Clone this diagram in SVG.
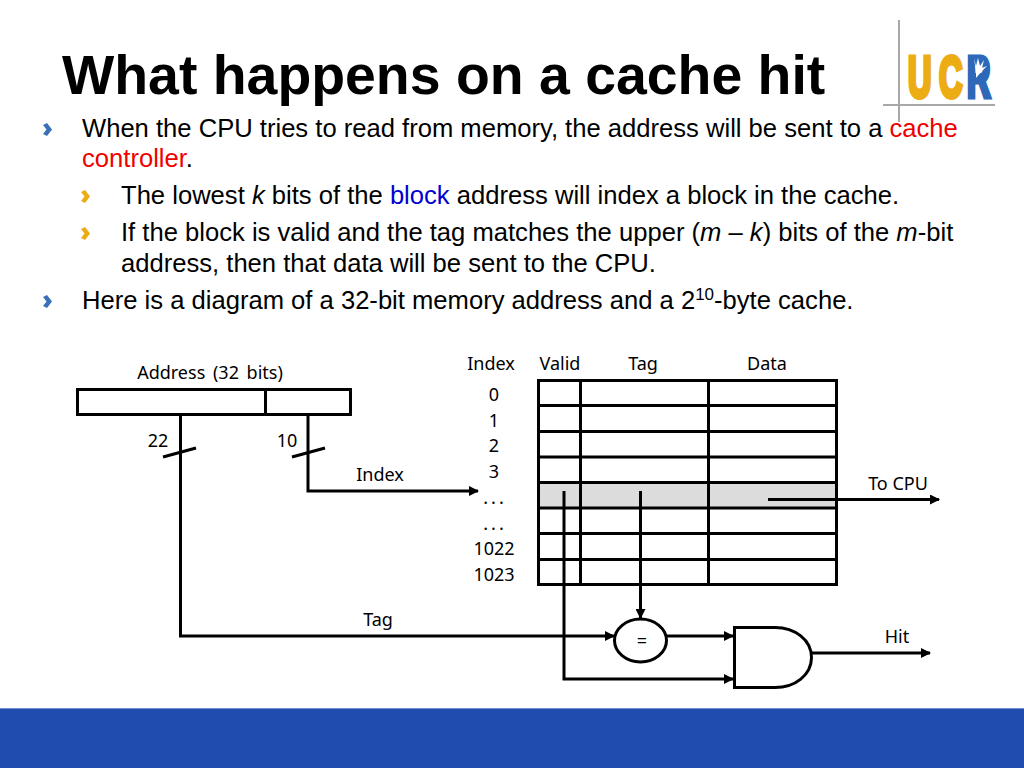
<svg xmlns="http://www.w3.org/2000/svg" width="1024" height="768" viewBox="0 0 1024 768">
<style>
text{font-family:"Liberation Sans",Arial,sans-serif;fill:#000}
.t{font-size:55.400px;font-weight:bold}
.b{font-size:25.600px}
.d{font-family:"Noto Sans","DejaVu Sans",sans-serif;font-size:18px}
.m{text-anchor:middle}
.red{fill:#f00000}
.blue{fill:#0000d0}
.i{font-style:italic}
.w{stroke:#000;stroke-width:3;fill:none}
.g{stroke:#a8a8a8;stroke-width:2;fill:none}
.cb{fill:#3a70b8}
.cy{fill:#ecac14}
.lu{font-size:58px;font-weight:bold;fill:#ecac14;stroke:#ecac14;stroke-width:5}
.lr{font-size:58px;font-weight:bold;fill:#2e68b8;stroke:#2e68b8;stroke-width:5}
</style>
<defs>
<marker id="a" markerUnits="userSpaceOnUse" markerWidth="10" markerHeight="10" refX="9" refY="5" orient="auto"><path d="M0 0L10 5L0 10Z" fill="#000"/></marker>
<path id="chev" d="M0 2L4 0L9 6.500L4 13L0 11L3.500 6.500Z"/>
</defs>
<rect id="band" x="0" y="708" width="1024" height="60" fill="#204cb0"/>
<rect x="0" y="708" width="1024" height="1" fill="#6f8fd0"/>
<g id="logo">
<path class="g" d="M899 20V122M883 105H995"/>
<text transform="translate(908 97) scale(.56 1.000)" class="lu">U</text>
<text transform="translate(939 97) scale(.56 1.000)" class="lu">C</text>
<text transform="translate(967 97) scale(.56 1.000)" class="lr">R</text>
<path d="M974 58L976 66L978 58L980 66L984 60L982 68L987 66L982 71L976 78L976 72Z" fill="#fff"/>
</g>
<g id="title"><text class="t" x="62" y="94">What happens on a cache hit</text></g>
<g id="bullets">
<use href="#chev" x="43" y="123" class="cb"/>
<use href="#chev" x="81" y="190" class="cy"/>
<use href="#chev" x="81" y="227" class="cy"/>
<use href="#chev" x="43" y="295" class="cb"/>
<text class="b" x="82" y="136.500">When the CPU tries to read from memory, the address will be sent to a <tspan class="red">cache</tspan></text>
<text class="b" x="82" y="166.500"><tspan class="red">controller</tspan>.</text>
<text class="b" x="121" y="203.500">The lowest <tspan class="i">k</tspan> bits of the <tspan class="blue">block</tspan> address will index a block in the cache.</text>
<text class="b" x="121" y="240.500">If the block is valid and the tag matches the upper (<tspan class="i">m</tspan> – <tspan class="i">k</tspan>) bits of the <tspan class="i">m</tspan>-bit</text>
<text class="b" x="121" y="271.500">address, then that data will be sent to the CPU.</text>
<text class="b" x="82" y="308.500">Here is a diagram of a 32-bit memory address and a 2<tspan dy="-9" font-size="17">10</tspan><tspan dy="9">-byte cache.</tspan></text>
</g>
<g id="address">
<rect class="w" x="77.500" y="389.500" width="273" height="25"/>
<path class="w" d="M265.500 389.500V414.500"/>
<text class="d m" x="210" y="379" word-spacing="3">Address (32 bits)</text>
<text class="d m" x="158" y="447">22</text>
<text class="d m" x="287" y="447">10</text>
</g>
<g id="cache">
<rect x="539" y="483" width="297" height="25" fill="#dcdcdc"/>
<rect class="w" x="538.500" y="380.500" width="298" height="204"/>
<path class="w" d="M538 405.500H837M538 431.500H837M538 457H837M538 482.500H837M538 508H837M538 533.500H837M538 559.500H837M580.500 380V585M708.500 380V585"/>
<text class="d m" x="491" y="370">Index</text>
<text class="d m" x="560" y="370">Valid</text>
<text class="d m" x="643" y="370">Tag</text>
<text class="d m" x="767" y="370">Data</text>
<text class="d m" x="494" y="401">0</text>
<text class="d m" x="494" y="427">1</text>
<text class="d m" x="494" y="452">2</text>
<text class="d m" x="494" y="478">3</text>
<text class="d m" x="495" y="504" letter-spacing="3">...</text>
<text class="d m" x="495" y="530" letter-spacing="3">...</text>
<text class="d m" x="494" y="555">1022</text>
<text class="d m" x="494" y="581">1023</text>
</g>
<g id="connectors">
<path class="w" d="M180.500 414V636H614" marker-end="url(#a)"/>
<path class="w" d="M308 414V491H478" marker-end="url(#a)"/>
<path class="w" d="M163 457L196 448M292 457L325 448"/>
<path class="w" d="M564 491V679H733" marker-end="url(#a)"/>
<path class="w" d="M640.500 491V618" marker-end="url(#a)"/>
<path class="w" d="M768 499.500H939" marker-end="url(#a)"/>
<path class="w" d="M667 636H733" marker-end="url(#a)"/>
<path class="w" d="M812 653H930" marker-end="url(#a)"/>
<text class="d m" x="380" y="481">Index</text>
<text class="d m" x="898" y="490">To CPU</text>
<text class="d m" x="378" y="626">Tag</text>
<text class="d m" x="897" y="643">Hit</text>
</g>
<g id="eq">
<ellipse cx="640.500" cy="640.500" rx="26" ry="21.500" fill="#fff" stroke="#000" stroke-width="3"/>
<text class="d m" x="642" y="647">=</text>
</g>
<g id="and">
<path d="M734.500 627.500H775C795 627.500 811.500 640 811.500 657.500C811.500 675 795 687.500 775 687.500H734.500Z" fill="#fff" stroke="#000" stroke-width="3"/>
</g>
</svg>
